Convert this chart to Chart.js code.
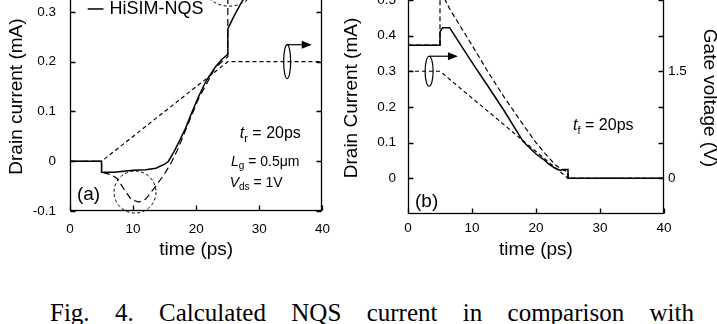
<!DOCTYPE html>
<html>
<head>
<meta charset="utf-8">
<script src="https://cdn.jsdelivr.net/npm/chart.js@4.4.1/dist/chart.umd.min.js"></script>
<style>
  html, body { margin: 0; padding: 0; background: #fff; width: 717px; height: 324px; overflow: hidden; }
  canvas { position: absolute; }
  #cA { left: 0; top: -40px; }
  #cB { left: 336px; top: -40px; }
  #cap {
    position: absolute; left: 50px; top: 300px; width: 644px;
    font: 25px "Liberation Serif", "Times New Roman", serif; line-height: 1;
    text-align: justify; text-align-last: justify; color: #000;
  }
</style>
</head>
<body>
<canvas id="cA" width="340" height="301"></canvas>
<canvas id="cB" width="389" height="301"></canvas>
<div id="cap">Fig. 4. Calculated NQS current in comparison with</div>
<script>
// axes
const xTicks = [0, 10, 20, 30, 40];
const yTicksA = [-0.1, 0, 0.1, 0.2, 0.3];
const yTicksB = [0, 0.1, 0.2, 0.3, 0.4, 0.5];
const gateTicksB = [0, 1.5];

// (a) turn-on, tr = 20ps : drain current (mA) vs time (ps)
const tNqsA = [0, 5, 5, 7, 10, 12, 13.6, 15, 15.6, 16.5, 17.5, 18.3, 19.3, 20.3, 21.5, 23, 24, 25, 25, 26, 27.3, 28.5, 30, 33, 36, 40];
const iNqsA = [0, 0, -0.022, -0.022, -0.018, -0.017, -0.014, -0.006, 0, 0.02, 0.045, 0.066, 0.098, 0.128, 0.16, 0.189, 0.204, 0.215, 0.266, 0.292, 0.322, 0.345, 0.37, 0.39, 0.4, 0.405];
const tDevA = [0, 5, 5, 6.5, 7.5, 8.5, 9.7, 10.9, 12, 13.6, 15, 16, 17, 18.3, 20.3, 23, 25, 25, 26, 28, 32, 40];
const iDevA = [0, 0, -0.022, -0.027, -0.035, -0.055, -0.077, -0.082, -0.076, -0.05, -0.025, -0.004, 0.022, 0.062, 0.124, 0.188, 0.21, 0.5, 0.46, 0.43, 0.41, 0.405];
const tGateA = [0, 5, 25, 40];
const vGateA = [0, 0, 1.0, 1.0];

// (b) turn-off, tf = 20ps
const tNqsB = [0, 5, 5, 5.4, 6.5, 10, 12.5, 15, 18, 20, 21.1, 22, 23, 23.8, 24.2, 25, 25, 40];
const iNqsB = [0.373, 0.373, 0.41, 0.422, 0.422, 0.325, 0.258, 0.19, 0.103, 0.068, 0.054, 0.04, 0.028, 0.022, 0.025, 0.025, 0, 0];
const tDevB = [0, 5, 5, 5.4, 5.8, 6.5, 7.7, 9.7, 12.5, 15, 18, 20, 21.5, 23, 24, 25, 25, 40];
const iDevB = [0.373, 0.373, 0.64, 0.55, 0.5, 0.475, 0.44, 0.382, 0.298, 0.228, 0.15, 0.1, 0.068, 0.038, 0.025, 0.018, 0, 0];
const tGateB = [0, 5, 25, 40];
const vGateB = [1.5, 1.5, 0, 0];

const FONT = '"Liberation Sans", Arial, sans-serif';
Chart.defaults.font.family = FONT;
Chart.defaults.color = '#000';

const pts = (ts, vs) => ts.map((t, i) => ({ x: t, y: vs[i] }));

function line(label, ts, vs, dash, width, axis) {
  return {
    label, data: pts(ts, vs), borderColor: '#000', borderWidth: width,
    borderDash: dash, pointRadius: 0, tension: 0, fill: false, yAxisID: axis || 'y'
  };
}

const fmt = v => (v === 0 ? '0' : (Math.round(v * 10) / 10).toFixed(1));
const setTicks = list => s => { s.ticks = list.map(v => ({ value: v })); };

// frame + inward tick marks on all sides
const frame = {
  id: 'frame',
  afterDatasetsDraw(chart) {
    const { ctx, chartArea: a, scales } = chart;
    const L = Math.round(a.left) + 0.5, R = Math.round(a.right) - 0.5;
    const T = Math.round(a.top) + 0.5, B = Math.round(a.bottom) - 0.5;
    ctx.save();
    ctx.strokeStyle = '#000';
    ctx.lineWidth = 1.3;
    ctx.setLineDash([]);
    ctx.strokeRect(L, T, R - L, B - T);
    ctx.beginPath();
    scales.y.ticks.forEach(t => {
      const py = Math.round(scales.y.getPixelForValue(t.value)) + 0.5;
      ctx.moveTo(L, py); ctx.lineTo(L + 5, py);
      ctx.moveTo(R, py); ctx.lineTo(R - 5, py);
    });
    scales.x.ticks.forEach(t => {
      const px = Math.round(scales.x.getPixelForValue(t.value)) + 0.5;
      ctx.moveTo(px, B); ctx.lineTo(px, B - 5);
      ctx.moveTo(px, T); ctx.lineTo(px, T + 5);
    });
    ctx.stroke();
    ctx.restore();
  }
};

function circle(ctx, cx, cy, r) {
  ctx.save();
  ctx.setLineDash([3, 2.5]);
  ctx.lineWidth = 1;
  ctx.beginPath();
  ctx.arc(cx, cy, r, 0, Math.PI * 2);
  ctx.stroke();
  ctx.restore();
}

function ellipseArrow(ctx, cx, cy, rx, ry, x2) {
  ctx.save();
  ctx.setLineDash([]);
  ctx.lineWidth = 1.2;
  ctx.beginPath();
  ctx.ellipse(cx, cy, rx, ry, 0, 0, Math.PI * 2);
  ctx.stroke();
  const ay = cy - ry;
  ctx.beginPath();
  ctx.moveTo(cx, ay); ctx.lineTo(x2 - 6, ay);
  ctx.stroke();
  ctx.beginPath();
  ctx.moveTo(x2, ay); ctx.lineTo(x2 - 10, ay - 4); ctx.lineTo(x2 - 10, ay + 4);
  ctx.closePath();
  ctx.fill();
  ctx.restore();
}

// text runs with italic letters and subscripts
function rich(ctx, x, y, parts) {
  ctx.save();
  ctx.textBaseline = 'alphabetic';
  ctx.textAlign = 'left';
  parts.forEach(p => {
    ctx.font = (p.it ? 'italic ' : '') + p.size + 'px ' + FONT;
    ctx.fillText(p.t, x, y + (p.dy || 0));
    x += ctx.measureText(p.t).width;
  });
  ctx.restore();
}

function axisOpts(o) {
  return {
    min: o.min, max: o.max, position: o.position || undefined,
    afterBuildTicks: setTicks(o.ticks),
    afterFit: s => { if (o.width) s.width = o.width; if (o.height) s.height = o.height; },
    grid: { display: false, drawTicks: false },
    border: { display: false },
    ticks: { padding: o.pad, font: { size: 13.5 }, maxRotation: 0, callback: o.cb || fmt },
    title: { display: true, text: o.title, font: { size: 19 }, padding: o.tpad }
  };
}

new Chart(document.getElementById('cA'), {
  type: 'line',
  data: {
    datasets: [
      line('HiSIM-NQS', tNqsA, iNqsA, [], 1.5),
      line('Device simulation', tDevA, iDevA, [7, 4], 1.2),
      line('Gate voltage', tGateA, vGateA, [4, 3], 1.2, 'y2')
    ]
  },
  options: {
    responsive: false, animation: false,
    layout: { padding: { top: 21, right: 14, left: 0, bottom: 0 } },
    plugins: { legend: { display: false }, tooltip: { enabled: false } },
    scales: {
      x: Object.assign(axisOpts({ min: 0, max: 40, ticks: xTicks, height: 50, pad: 10,
        cb: v => String(v), title: 'time (ps)', tpad: { top: 0, bottom: 0 } }), { type: 'linear' }),
      y: axisOpts({ min: -0.1, max: 0.36, ticks: yTicksA, width: 70, pad: 14,
        title: 'Drain current (mA)', tpad: { top: 5.6, bottom: 0 } }),
      y2: { position: 'right', display: false, min: -0.5, max: 1.8 }
    }
  },
  plugins: [frame, {
    id: 'notesA',
    afterDatasetsDraw(chart) {
      const { ctx, scales: { x, y } } = chart;
      ctx.save();
      ctx.fillStyle = '#000'; ctx.strokeStyle = '#000';
      circle(ctx, x.getPixelForValue(10.3), y.getPixelForValue(-0.062), 21);
      circle(ctx, x.getPixelForValue(25.2), y.getPixelForValue(0.372), 30);
      ellipseArrow(ctx, x.getPixelForValue(34.4), y.getPixelForValue(0.2), 3.5, 17, x.getPixelForValue(38.3));
      // legend entry
      ctx.lineWidth = 1.5; ctx.setLineDash([]);
      ctx.beginPath();
      ctx.moveTo(x.getPixelForValue(2.8), y.getPixelForValue(0.306));
      ctx.lineTo(x.getPixelForValue(5.3), y.getPixelForValue(0.306));
      ctx.stroke();
      rich(ctx, x.getPixelForValue(6.25), y.getPixelForValue(0.296), [{ t: 'HiSIM-NQS', size: 18 }]);
      ctx.font = '19px ' + FONT;
      ctx.textBaseline = 'middle';
      ctx.fillText('(a)', x.getPixelForValue(1.1), y.getPixelForValue(-0.068));
      rich(ctx, x.getPixelForValue(26.9), y.getPixelForValue(0.046),
        [{ t: 't', it: true, size: 16 }, { t: 'r', size: 11, dy: 4 }, { t: ' = 20ps', size: 16 }]);
      rich(ctx, x.getPixelForValue(25.5), y.getPixelForValue(-0.01),
        [{ t: 'L', it: true, size: 14 }, { t: 'g', size: 10, dy: 3 }, { t: ' = 0.5μm', size: 14 }]);
      rich(ctx, x.getPixelForValue(25.3), y.getPixelForValue(-0.052),
        [{ t: 'V', it: true, size: 14 }, { t: 'ds', size: 10, dy: 3 }, { t: ' = 1V', size: 14 }]);
      ctx.restore();
    }
  }]
});

new Chart(document.getElementById('cB'), {
  type: 'line',
  data: {
    datasets: [
      line('HiSIM-NQS', tNqsB, iNqsB, [], 1.5),
      line('Device simulation', tDevB, iDevB, [5, 3], 1.2),
      line('Gate voltage', tGateB, vGateB, [4, 3], 1.2, 'y2')
    ]
  },
  options: {
    responsive: false, animation: false,
    layout: { padding: { top: 22, right: 0, left: 0, bottom: 0 } },
    plugins: { legend: { display: false }, tooltip: { enabled: false } },
    scales: {
      x: Object.assign(axisOpts({ min: 0, max: 40, ticks: xTicks, height: 47, pad: 6,
        cb: v => String(v), title: 'time (ps)', tpad: { top: 0, bottom: 0 } }), { type: 'linear' }),
      y: axisOpts({ min: -0.1, max: 0.55, ticks: yTicksB, width: 72, pad: 12,
        title: 'Drain Current (mA)', tpad: { top: 4.6, bottom: 0 } }),
      y2: axisOpts({ min: -0.5, max: 2.75, position: 'right', ticks: gateTicksB, width: 61, pad: 4,
        cb: v => (v === 0 ? '0' : v.toFixed(1)), title: 'Gate voltage (V)', tpad: { top: 4.1, bottom: 0 } })
    }
  },
  plugins: [frame, {
    id: 'notesB',
    afterDatasetsDraw(chart) {
      const { ctx, scales: { x, y } } = chart;
      ctx.save();
      ctx.fillStyle = '#000'; ctx.strokeStyle = '#000';
      ellipseArrow(ctx, x.getPixelForValue(3.3), y.getPixelForValue(0.3), 4, 15, x.getPixelForValue(7.8));
      ctx.font = '19px ' + FONT;
      ctx.textBaseline = 'middle';
      ctx.fillText('(b)', x.getPixelForValue(1.1), y.getPixelForValue(-0.067));
      rich(ctx, x.getPixelForValue(25.8), y.getPixelForValue(0.134),
        [{ t: 't', it: true, size: 16 }, { t: 'f', size: 11, dy: 4 }, { t: ' = 20ps', size: 16 }]);
      ctx.restore();
    }
  }]
});
</script>
</body>
</html>
